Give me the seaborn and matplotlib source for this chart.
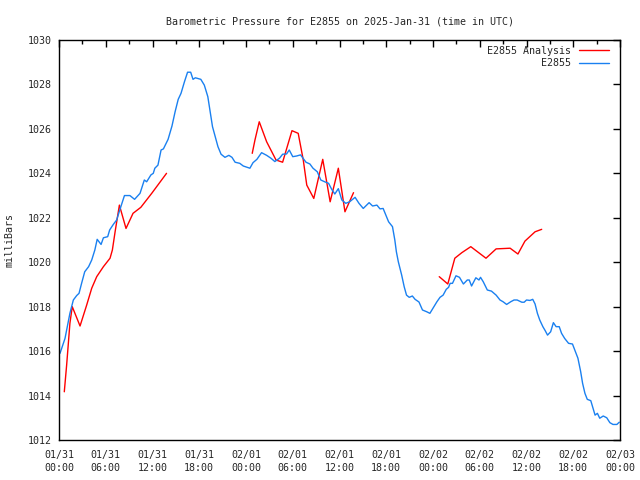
import numpy as np
import pandas as pd
import matplotlib
matplotlib.use('Agg')
import matplotlib.pyplot as plt
import matplotlib.dates as mdates
from matplotlib.lines import Line2D
import seaborn as sns

# observed pressure, hours after 2025-01-31 00:00 UTC
obs_hours = [0.13, 0.77, 1.4, 1.84, 2.27, 2.57, 2.9, 3.3, 3.8, 4.2,
             4.6, 4.9, 5.4, 5.7, 6.25, 6.5, 6.97, 7.4, 7.8, 8.4,
             9.1, 9.7, 10.4, 10.95, 11.25, 11.8, 12.1, 12.3, 12.7, 13.1,
             13.4, 14.0, 14.5, 14.9, 15.3, 15.66, 16.1, 16.5, 16.9, 17.2,
             17.5, 18.2, 18.65, 19.1, 19.4, 19.7, 20.0, 20.4, 20.8, 21.3,
             21.8, 22.2, 22.6, 23.2, 23.65, 24.5, 24.9, 25.4, 26.0, 26.65,
             27.2, 27.7, 28.3, 28.7, 29.2, 29.55, 30.0, 30.5, 31.0, 31.7,
             32.2, 32.6, 33.15, 33.6, 34.1, 34.6, 35.0, 35.4, 35.85, 36.3,
             36.8, 37.3, 38.0, 38.5, 39.05, 39.8, 40.25, 40.8, 41.2, 41.6,
             42.3, 42.8, 43.1, 43.3, 43.55, 43.98, 44.3, 44.6, 44.95, 45.35,
             45.7, 46.2, 46.65, 47.2, 47.6, 48.0, 48.5, 48.9, 49.3, 49.7,
             50.0, 50.2, 50.5, 50.95, 51.4, 51.9, 52.4, 52.65, 52.95, 53.5,
             53.9, 54.1, 54.45, 54.97, 55.5, 56.1, 56.6, 57.0, 57.45, 57.97,
             58.4, 58.8, 59.4, 59.7, 60.0, 60.45, 60.8, 61.1, 61.4, 61.7,
             62.1, 62.4, 62.7, 63.1, 63.45, 63.8, 64.2, 64.5, 64.9, 65.4,
             65.9, 66.2, 66.6, 66.95, 67.2, 67.5, 67.8, 68.25, 68.6, 68.8,
             69.1, 69.4, 69.85, 70.3, 70.7, 71.1, 71.6, 71.9]
obs_mb = [1015.9, 1016.57, 1017.7, 1018.3, 1018.5, 1018.6, 1019.05, 1019.57, 1019.8, 1020.1,
          1020.55, 1021.03, 1020.8, 1021.1, 1021.15, 1021.45, 1021.7, 1021.9, 1022.35, 1023.0,
          1023.0, 1022.83, 1023.1, 1023.7, 1023.62, 1023.93, 1024.0, 1024.23, 1024.37, 1025.05,
          1025.1, 1025.53, 1026.13, 1026.77, 1027.33, 1027.6, 1028.12, 1028.55, 1028.55, 1028.23,
          1028.3, 1028.23, 1027.97, 1027.45, 1026.77, 1026.1, 1025.72, 1025.2, 1024.86, 1024.72,
          1024.81, 1024.72, 1024.5, 1024.45, 1024.33, 1024.23, 1024.48, 1024.63, 1024.93, 1024.81,
          1024.68, 1024.53, 1024.68, 1024.86, 1024.87, 1025.05, 1024.75, 1024.78, 1024.83, 1024.5,
          1024.42, 1024.23, 1024.07, 1023.7, 1023.62, 1023.55, 1023.28, 1023.07, 1023.31, 1022.8,
          1022.65, 1022.72, 1022.92, 1022.65, 1022.42, 1022.68, 1022.53, 1022.57, 1022.4, 1022.42,
          1021.82, 1021.6, 1021.0, 1020.47, 1020.02, 1019.42, 1018.9, 1018.52, 1018.42, 1018.48,
          1018.33, 1018.21, 1017.85, 1017.77, 1017.7, 1017.93, 1018.22, 1018.42, 1018.52, 1018.78,
          1018.87, 1019.05, 1019.05, 1019.39, 1019.32, 1019.02, 1019.2, 1019.2, 1018.93, 1019.3,
          1019.2, 1019.32, 1019.12, 1018.75, 1018.7, 1018.52, 1018.3, 1018.22, 1018.1, 1018.22,
          1018.3, 1018.3, 1018.2, 1018.2, 1018.3, 1018.28, 1018.33, 1018.12, 1017.7, 1017.4,
          1017.1, 1016.92, 1016.72, 1016.87, 1017.28, 1017.1, 1017.1, 1016.8, 1016.57, 1016.35,
          1016.32, 1016.05, 1015.68, 1015.08, 1014.55, 1014.1, 1013.83, 1013.77, 1013.35, 1013.12,
          1013.2, 1012.98, 1013.08, 1013.0, 1012.78, 1012.7, 1012.7, 1012.8]

# analysis pressure, three separate runs
ana_hours = [0.68, 0.98, 1.2, 1.4, 1.7, 2.7, 3.55, 4.2, 4.84, 5.7,
             6.55, 6.85, 7.2, 7.75, 8.6, 9.5, 10.5, 11.9, 13.8,
             24.8, 25.15, 25.7, 26.65, 27.85, 28.7, 29.9, 30.7, 31.35, 31.8,
             32.7, 33.85, 34.8, 35.85, 36.7, 37.8,
             48.8, 49.9, 50.8, 51.7, 52.85, 54.8, 56.1, 57.9, 58.9, 59.8,
             61.1, 61.95]
ana_mb = [1014.17, 1015.37, 1016.35, 1017.25, 1018.0, 1017.13, 1018.07, 1018.83, 1019.35, 1019.8,
          1020.18, 1020.55, 1021.37, 1022.57, 1021.52, 1022.2, 1022.47, 1023.1, 1024.0,
          1024.9, 1025.5, 1026.32, 1025.42, 1024.6, 1024.5, 1025.92, 1025.8, 1024.6, 1023.47,
          1022.87, 1024.63, 1022.72, 1024.23, 1022.27, 1023.13,
          1019.35, 1019.02, 1020.18, 1020.43, 1020.7, 1020.18, 1020.6, 1020.63, 1020.37, 1020.95,
          1021.37, 1021.48]
ana_run = [1] * 19 + [2] * 16 + [3] * 12

start = pd.Timestamp('2025-01-31 00:00')
obs = pd.DataFrame({'time': start + pd.to_timedelta(obs_hours, unit='h'), 'mb': obs_mb})
ana = pd.DataFrame({'time': start + pd.to_timedelta(ana_hours, unit='h'),
                    'mb': ana_mb, 'run': ana_run})

red = '#ff0000'
blue = '#1a80f0'

sns.set_style('white')
plt.rcParams['font.family'] = ['DejaVu Sans Mono']

fig = plt.figure(figsize=(6.4, 4.8), dpi=100)
ax = fig.add_axes([59 / 640, 40 / 480, 561 / 640, 400 / 480])

sns.lineplot(data=ana, x='time', y='mb', units='run', estimator=None,
             color=red, linewidth=1, ax=ax, legend=False)
sns.lineplot(data=obs, x='time', y='mb', color=blue, linewidth=1, ax=ax, legend=False)

ax.set_xlim(start, start + pd.Timedelta(hours=72))
ax.set_ylim(1012, 1030)
ax.set_yticks(np.arange(1012, 1031, 2))
ax.xaxis.set_major_locator(mdates.HourLocator(byhour=[0, 6, 12, 18]))
ax.xaxis.set_minor_locator(mdates.HourLocator(byhour=[3, 9, 15, 21]))
ax.xaxis.set_major_formatter(mdates.DateFormatter('%m/%d\n%H:%M'))

ax.tick_params(which='both', direction='in', top=True, right=True,
               labelsize=7.2, color='black')
ax.tick_params(which='major', length=5, width=1)
ax.tick_params(which='minor', length=3, width=1)
ax.tick_params(axis='y', pad=5)
ax.tick_params(axis='x', pad=7)
for lbl in ax.get_xticklabels():
    lbl.set_linespacing(1.45)
for s in ax.spines.values():
    s.set_color('black')
    s.set_linewidth(1)

ax.set_xlabel('')
ax.set_ylabel('milliBars', fontsize=7.2, labelpad=10)
ax.set_title('Barometric Pressure for E2855 on 2025-Jan-31 (time in UTC)',
             fontsize=7.2, pad=11.5)

handles = [Line2D([], [], color=red, linewidth=1),
           Line2D([], [], color=blue, linewidth=1)]
ax.legend(handles, ['E2855 Analysis', 'E2855'], loc='upper right',
          bbox_to_anchor=(1 - 5 / 561, 1), frameon=False, markerfirst=False,
          fontsize=7.2, handlelength=3, borderaxespad=0.2, labelspacing=0.25)

fig.savefig('out.png', dpi=100)
